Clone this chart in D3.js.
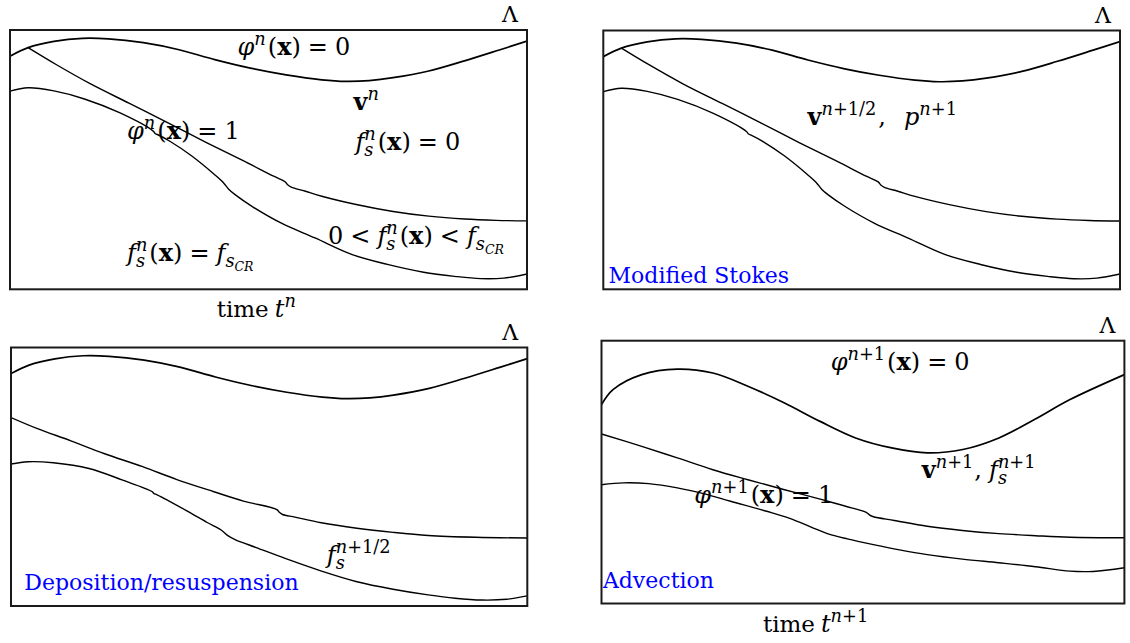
<!DOCTYPE html>
<html>
<head>
<meta charset="utf-8">
<script src="https://cdn.jsdelivr.net/npm/d3@7"></script>
<style>
  html, body { margin: 0; padding: 0; background: #fff; }
  svg { display: block; }
</style>
</head>
<body>
<svg id="fig" width="1130" height="643"></svg>
<script>
// Interface profiles: [x in % of domain width, height in % of domain depth (100 = top)]

// free surface phi = 0 at time t^n (unchanged through Stokes and deposition steps)
const interfaceN = [[0,89.9],[3.5,93.2],[8.5,95.6],[14,96.8],[19,96.6],[25.8,95.1],[32.7,92.4],
  [39.6,88.6],[46.5,85.3],[53.4,82.7],[60.3,80.8],[65,80.2],[69.5,80.5],[74.1,81.6],[81,84.2],
  [87.9,88.1],[94.8,92.4],[100,95.7]];

// top of the suspended sediment layer at t^n
const sedimentN = [[3.5,93.2],[9,86.6],[15.5,79.3],[23,71.8],[30,64.8],[38,56.6],[45,49.7],
  [51,43.6],[53.2,41.5],[53.7,40.3],[54.4,39.4],[57,37.9],[60.3,35.9],[67.2,32.6],[74.1,30.0],
  [81,28.2],[87.9,27.1],[94,26.6],[100,26.4]];

// deposited bed (f_s = f_sCR) at t^n
const bedN = [[0,76.4],[3.5,77.7],[8.5,76.5],[14.4,73.4],[21.3,68.0],[27.7,61.0],[28.1,60.0],
  [28.6,59.6],[31,57],[35.1,51.5],[39.6,44.2],[41.2,41.3],[42.3,38.6],[43.6,36.4],[46.8,32.0],
  [52.5,25.5],[59,19.8],[66.2,13.4],[73,9.6],[80,6.6],[86,5.0],[91,4.1],[95.5,4.3],[100,5.9]];

// after the deposition / resuspension step
const sedimentHalf = [[0,72.9],[5,68.7],[11.6,63.9],[18,59],[25.5,53.9],[32,49],[39.3,44.2],
  [45,40.6],[51.5,37.3],[52,36.2],[52.6,35.4],[55,34.4],[60.1,32.2],[67,30.1],[74,28.5],
  [80.8,27.3],[90,26.6],[100,26.3]];

const bedHalf = [[0,54.9],[3.3,55.8],[8.2,55.4],[15.1,53.2],[21.5,48.8],[27.3,44.3],[27.7,43.5],
  [28.3,43.0],[33.8,37.1],[38,32.3],[40.7,29.4],[42,27.2],[43.5,25.6],[47.5,22.6],[53.1,18.4],
  [60,13.6],[67,9.4],[74,6.5],[80.8,4.3],[86,3.0],[91.2,2.3],[96,2.6],[100,3.9]];

// after advection, time t^{n+1}
const interfaceNext = [[0,75.7],[2.2,81.4],[7.7,87.1],[14.5,89.2],[21.3,87.7],[28.1,82.6],
  [35,76.3],[41.8,69.3],[48.6,63.0],[55.5,59.2],[62.3,57.3],[69.1,58.6],[76,63.0],[82.8,70.0],
  [89.6,77.6],[100,87.1]];

const sedimentNext = [[0,64.5],[7.7,59.8],[14.5,55.4],[21.3,50.9],[28,47.1],[35,43.3],[42,39.6],
  [48,36.3],[50.7,34.6],[51.3,33.6],[52,33.0],[56,31.6],[62.3,29.4],[69,27.8],[76,26.6],
  [83,25.8],[89.6,25.2],[100,25.0]];

const bedNext = [[0,45.2],[4.2,45.9],[9,45.6],[14.5,44.0],[19.5,41.8],[24.7,38.9],[31.6,35.1],
  [36,32.4],[40.4,28.8],[43.2,26.6],[47,24.6],[52,22.4],[57,20.4],[62.3,18.6],[69,16.9],
  [76,15.5],[83,14.0],[89.6,12.3],[94,12.2],[100,13.6]];

// step names
const stepNames = ["Modified Stokes", "Deposition/resuspension", "Advection"];

// ---------------------------------------------------------------------------
const svg = d3.select("#fig");
const FONT = "'DejaVu Serif', serif";
const BASE = 24;      // math text size
const TEXT = 22;      // plain text size

// panel frames: [left, top, right, bottom]
const panels = [
  { box: [10, 30, 527, 289.3],          curves: [interfaceN, sedimentN, bedN] },
  { box: [603.3, 30.5, 1120, 289.3],    curves: [interfaceN, sedimentN, bedN] },
  { box: [11, 347.5, 527.3, 606],       curves: [interfaceN, sedimentHalf, bedHalf] },
  { box: [601.5, 340.7, 1124.4, 603.5], curves: [interfaceNext, sedimentNext, bedNext] }
];

const line = d3.line().curve(d3.curveCatmullRom.alpha(0.5));

panels.forEach((p, i) => {
  const [l, t, r, b] = p.box;
  const x = d3.scaleLinear().domain([0, 100]).range([l, r]);
  const y = d3.scaleLinear().domain([0, 100]).range([b, t]);
  const g = svg.append("g");
  g.append("clipPath").attr("id", "clip" + i)
    .append("rect").attr("x", l).attr("y", t).attr("width", r - l).attr("height", b - t);
  const cg = g.append("g").attr("clip-path", `url(#clip${i})`);
  p.curves.forEach((c, k) => {
    cg.append("path")
      .attr("d", line(c.map(d => [x(d[0]), y(d[1])])))
      .attr("fill", "none")
      .attr("stroke", "#000")
      .attr("stroke-width", k === 0 ? 1.7 : 1.4)
      .attr("stroke-linejoin", "round");
  });
  g.append("rect")
    .attr("x", l).attr("y", t).attr("width", r - l).attr("height", b - t)
    .attr("fill", "none").attr("stroke", "#1a1a1a").attr("stroke-width", 2);
  // domain symbol at the top-right corner
  svg.append("text")
    .attr("x", r - 17).attr("y", t - 8)
    .attr("text-anchor", "middle")
    .attr("font-family", FONT).attr("font-size", TEXT)
    .text("\u039B");
});

// ---------------------------------------------------------------------------
// math-text layout: one <text> per label, tspans placed left to right,
// with super/subscripts (stacked when both are present)
function glyph(text, x, y, it) {
  const lvl = it.l || 0;
  const size = it.s || (lvl === 0 ? BASE : (Math.abs(lvl) === 1 ? BASE * 0.74 : BASE * 0.52));
  const dy = lvl === 1 ? -BASE * 0.4 : lvl === -1 ? BASE * 0.24 : lvl === -2 ? BASE * 0.4 : 0;
  const ts = text.append("tspan")
    .attr("x", x).attr("y", y + dy)
    .attr("font-size", size)
    .attr("font-style", it.f === "i" ? "italic" : "normal")
    .attr("font-weight", it.f === "b" ? "bold" : "normal")
    .text(it.t);
  return ts.node().getComputedTextLength();
}
function run(text, x, y, items) {
  let cx = x;
  for (const it of items) {
    if (it.g !== undefined) { cx += it.g; continue; }
    if (it.stack) {
      let w = 0;
      for (const row of it.stack) w = Math.max(w, run(text, cx, y, row));
      cx += w; continue;
    }
    cx += glyph(text, cx, y, it);
  }
  return cx - x;
}

const I = (t, l) => ({ t, f: "i", l });
const R = (t, l) => ({ t, l });
const B = (t, l) => ({ t, f: "b", l });
const G = (g) => ({ g });
const ofX = [G(2), R("("), B("x"), R(")")];
const eq = [G(7), R("="), G(7)];
const lt = [G(7), R("<"), G(7)];
const fsN = [I("f"), { stack: [[I("n", 1)], [I("s", -1)]] }];
const fsCR = [I("f"), I("s", -1), I("CR", -2)];

const labels = [
  { x: 237.5, y: 55,  items: [I("\u03C6"), I("n", 1), ...ofX, ...eq, R("0")] },
  { x: 353.6, y: 110, items: [B("v"), I("n", 1)] },
  { x: 127,   y: 139, items: [I("\u03C6"), I("n", 1), ...ofX, ...eq, R("1")] },
  { x: 355.4, y: 150, items: [...fsN, ...ofX, ...eq, R("0")] },
  { x: 328,   y: 244, items: [R("0"), ...lt, ...fsN, ...ofX, ...lt, ...fsCR] },
  { x: 127,   y: 261, items: [...fsN, ...ofX, ...eq, ...fsCR] },
  { x: 216.7, y: 317, items: [{ t: "time", s: 23 }, G(6), I("t"), I("n", 1)] },
  { x: 807.5, y: 125, items: [B("v"), I("n", 1), R("+1/2", 1), G(2), R(","), G(18), I("p"), I("n", 1), R("+1", 1)] },
  { x: 326.8, y: 563, items: [I("f"), { stack: [[I("n", 1), R("+1/2", 1)], [I("s", -1)]] }] },
  { x: 830.7, y: 370, items: [I("\u03C6"), I("n", 1), R("+1", 1), ...ofX, ...eq, R("0")] },
  { x: 921.8, y: 478, items: [B("v"), I("n", 1), R("+1", 1), G(1), R(","), G(7), I("f"),
                               { stack: [[I("n", 1), R("+1", 1)], [I("s", -1)]] }] },
  { x: 694.3, y: 503, items: [I("\u03C6"), I("n", 1), R("+1", 1), ...ofX, ...eq, R("1")] },
  { x: 762.9, y: 632, items: [{ t: "time", s: 23 }, G(6), I("t"), I("n", 1), R("+1", 1)] }
];

const lg = svg.append("g");
labels.forEach(d => {
  const text = lg.append("text").attr("font-family", FONT).attr("fill", "#000");
  run(text, d.x, d.y, d.items);
});

// step names in blue
const stepPos = [[608.6, 283], [24.3, 590], [602.9, 588]];
stepNames.forEach((s, i) => {
  svg.append("text")
    .attr("x", stepPos[i][0]).attr("y", stepPos[i][1])
    .attr("font-family", FONT).attr("font-size", TEXT)
    .attr("fill", "#0000ff")
    .text(s);
});
</script>
</body>
</html>
